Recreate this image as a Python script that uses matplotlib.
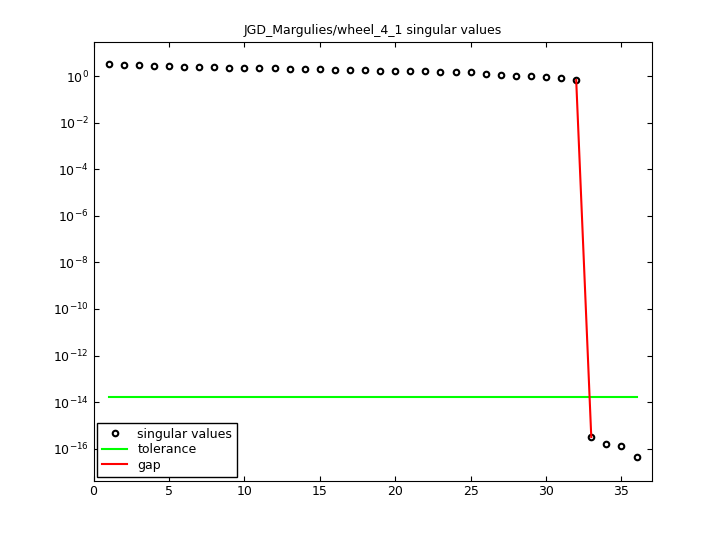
import numpy as np
import matplotlib
matplotlib.use('Agg')
import matplotlib.pyplot as plt

# log10 of singular values
log_sv = [0.50, 0.47, 0.46, 0.44, 0.43, 0.41, 0.40, 0.39, 0.37, 0.36,
          0.34, 0.33, 0.31, 0.30, 0.29, 0.27, 0.26, 0.25, 0.24, 0.23,
          0.22, 0.21, 0.19, 0.18, 0.17, 0.08, 0.05, 0.02, 0.00, -0.04,
          -0.08, -0.17, -15.5, -15.8, -15.9, -16.35]
sv = 10.0 ** np.array(log_sv)
idx = np.arange(1, len(sv) + 1)
tolerance = 1.7e-14
gap_at = 32

fig = plt.figure(figsize=(7.2, 5.4), dpi=100)
ax = fig.add_axes([0.13, 0.11, 0.775, 0.812])

ax.semilogy(idx, sv, 'o', mfc='none', mec='black', mew=1.5, ms=4, label='singular values')
ax.semilogy([1, 36], [tolerance, tolerance], color='#00ff00', lw=1.5, label='tolerance')
ax.semilogy(idx[gap_at - 1:gap_at + 1], sv[gap_at - 1:gap_at + 1], color='red', lw=1.5, label='gap')

ax.set_xlim(0, 37)
ax.set_ylim(10 ** -17.37, 10 ** 1.46)
ax.set_yticks([10.0 ** k for k in range(-16, 1, 2)])
ax.minorticks_off()
ax.set_xticks(range(0, 36, 5))
ax.tick_params(direction='in', labelsize=9, top=True, right=True)
ax.set_title('JGD_Margulies/wheel_4_1 singular values', fontsize=9)
ax.legend(loc='lower left', fontsize=9, fancybox=False, edgecolor='black', framealpha=1,
          borderaxespad=0.3, labelspacing=0.2)

fig.savefig('out.png')
